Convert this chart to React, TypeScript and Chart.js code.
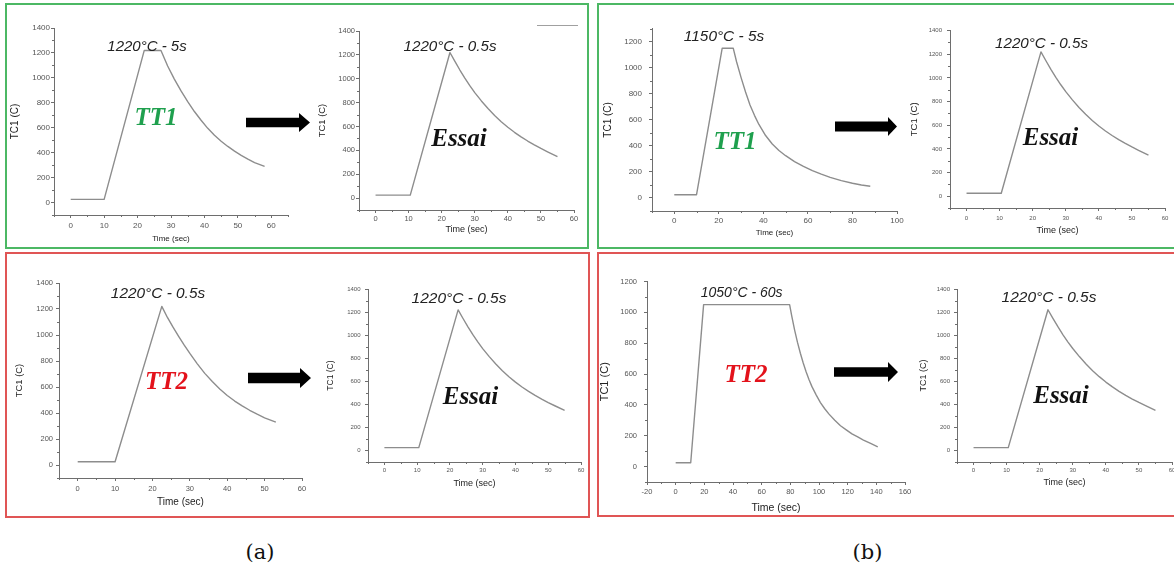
import React, { useEffect, useRef } from "react";
import { Chart, registerables } from "chart.js";

Chart.register(...registerables);

// ---------------- data ----------------
// (a) top : TT1 1220°C - 5s
const TT1_A_TIME = [0, 10, 22, 27, 29, 31, 33, 35, 37, 39, 41, 43, 45, 47, 49, 51, 53, 55, 58];
const TT1_A_TEMP = [25, 25, 1220, 1220, 1095, 990, 895, 810, 730, 660, 595, 540, 492, 450, 412, 378, 348, 320, 290];
// Essai 1220°C - 0.5s (same test in the four right-hand panels)
const ESSAI_TIME = [0, 10.5, 22.5, 24, 25.5, 27, 28.5, 30, 32, 34, 36, 38, 40, 42, 44, 46, 48, 50, 52, 55];
const ESSAI_TEMP = [25, 25, 1220, 1145, 1073, 1005, 942, 884, 814, 750, 692, 640, 593, 551, 513, 478, 446, 416, 388, 348];
// (a) bottom : TT2 1220°C - 0.5s
const TT2_A_TIME = [0, 10, 22.5, 24, 25.5, 27, 28.5, 30, 32, 34, 36, 38, 40, 42, 44, 46, 48, 50, 53];
const TT2_A_TEMP = [25, 25, 1220, 1135, 1060, 990, 922, 858, 778, 705, 642, 585, 535, 492, 455, 421, 391, 363, 330];
// (b) top : TT1 1150°C - 5s
const TT1_B_TIME = [0, 10, 21.5, 26.5, 28, 30, 32, 34, 36, 38, 41, 44, 47, 50, 54, 58, 62, 66, 70, 75, 80, 84, 88];
const TT1_B_TEMP = [25, 25, 1150, 1150, 1045, 925, 815, 715, 635, 565, 480, 415, 365, 325, 280, 243, 210, 183, 158, 133, 113, 100, 90];
// (b) bottom : TT2 1050°C - 60s
const TT2_B_TIME = [0, 10.5, 19.5, 79.5, 81, 83, 85, 87, 89, 91, 93, 95, 98, 101, 104, 107, 111, 115, 119, 123, 127, 131, 136, 141];
const TT2_B_TEMP = [25, 25, 1050, 1050, 975, 885, 805, 735, 672, 615, 565, 520, 465, 415, 375, 340, 300, 265, 238, 212, 192, 172, 150, 128];

// tick labels
const X_TICKS_60 = [0, 10, 20, 30, 40, 50, 60];
const X_TICKS_100 = [0, 20, 40, 60, 80, 100];
const X_TICKS_160 = [-20, 0, 20, 40, 60, 80, 100, 120, 140, 160];
const Y_TICKS_1400 = [0, 200, 400, 600, 800, 1000, 1200, 1400];
const Y_TICKS_1200 = [0, 200, 400, 600, 800, 1000, 1200];

const X_LABEL = "Time (sec)";
const Y_LABEL = "TC1 (C)";

// texts
const PEAK_LABELS = [
  "1220°C - 5s",
  "1220°C - 0.5s",
  "1220°C - 0.5s",
  "1220°C - 0.5s",
  "1150°C - 5s",
  "1220°C - 0.5s",
  "1050°C - 60s",
  "1220°C - 0.5s",
];
const TREATMENT_LABELS = ["TT1", "Essai", "TT2", "Essai", "TT1", "Essai", "TT2", "Essai"];
const CAPTIONS = ["(a)", "(b)"];

// ---------------- styles / layout ----------------
const AXIS_COLOR = "#6e6e6e";
const LINE_COLOR = "#8d8d8d";
const TICK_COLOR = "#555";
const TITLE_COLOR = "#222";
const SANS = "'Liberation Sans', Arial, sans-serif";
const SERIF = "'Liberation Serif', 'Times New Roman', serif";
const GREEN = "#4cb864";
const RED = "#e05555";
const PT = 8;
const PR = 12;

type Spec = {
  time: number[];
  temp: number[];
  xTicks: number[];
  yTicks: number[];
  xRange: [number, number];
  yRange: [number, number];
  plot: [number, number, number, number]; // left, top, right, bottom of the axes
  xTitleY: number;
  yTitleX: number;
  tick: number;
  xt: number;
  yt: number;
  xPad: number;
  yPad: number;
};

const SPECS: Spec[] = [
  { time: TT1_A_TIME, temp: TT1_A_TEMP, xTicks: X_TICKS_60, yTicks: Y_TICKS_1400, xRange: [-5, 65], yRange: [-100, 1400], plot: [54, 28, 288, 215], xTitleY: 239, yTitleX: 15, tick: 8, xt: 8, yt: 10, xPad: 3, yPad: 1 },
  { time: ESSAI_TIME, temp: ESSAI_TEMP, xTicks: X_TICKS_60, yTicks: Y_TICKS_1400, xRange: [-5, 60], yRange: [-100, 1400], plot: [359, 31, 574, 210], xTitleY: 230, yTitleX: 323, tick: 7.5, xt: 9, yt: 9.4, xPad: 1.2, yPad: 1 },
  { time: TT2_A_TIME, temp: TT2_A_TEMP, xTicks: X_TICKS_60, yTicks: Y_TICKS_1400, xRange: [-5, 60], yRange: [-100, 1400], plot: [59, 283, 302, 478], xTitleY: 502, yTitleX: 20, tick: 7.5, xt: 10, yt: 9.4, xPad: 3.2, yPad: 3 },
  { time: ESSAI_TIME, temp: ESSAI_TEMP, xTicks: X_TICKS_60, yTicks: Y_TICKS_1400, xRange: [-5, 60], yRange: [-100, 1400], plot: [368, 289, 581, 462], xTitleY: 484, yTitleX: 331, tick: 6, xt: 9, yt: 8.5, xPad: 1.7, yPad: 4.5 },
  { time: TT1_B_TIME, temp: TT1_B_TEMP, xTicks: X_TICKS_100, yTicks: Y_TICKS_1200, xRange: [-10, 100], yRange: [-100, 1300], plot: [652, 25, 897, 211], xTitleY: 233, yTitleX: 608, tick: 8, xt: 8, yt: 10, xPad: 1.6, yPad: 7 },
  { time: ESSAI_TIME, temp: ESSAI_TEMP, xTicks: X_TICKS_60, yTicks: Y_TICKS_1400, xRange: [-5, 60], yRange: [-100, 1400], plot: [950, 30, 1165, 208], xTitleY: 231, yTitleX: 915, tick: 6, xt: 9, yt: 9.5, xPad: 4, yPad: 5 },
  { time: TT2_B_TIME, temp: TT2_B_TEMP, xTicks: X_TICKS_160, yTicks: Y_TICKS_1200, xRange: [-20, 160], yRange: [-100, 1200], plot: [647, 278, 905, 482], xTitleY: 508, yTitleX: 605, tick: 7.5, xt: 10.5, yt: 11, xPad: 2.6, yPad: 7 },
  { time: ESSAI_TIME, temp: ESSAI_TEMP, xTicks: X_TICKS_60, yTicks: Y_TICKS_1400, xRange: [-5, 60], yRange: [-100, 1400], plot: [957, 289, 1172, 462], xTitleY: 483, yTitleX: 923, tick: 6, xt: 9, yt: 9, xPad: 1.7, yPad: 4 },
];

// overlay positions (centre x, centre y, font size) for the texts
const PEAK_POS: [number, number, number][] = [
  [147, 45, 15], [450, 46, 15.2], [158, 293, 15.4], [459, 297.5, 15.5],
  [724, 35.5, 15.4], [1041.5, 43.3, 15.2], [741.7, 292, 14], [1049, 297, 15.5],
];
const TREAT_POS: [number, number][] = [
  [156, 116], [459, 136.7], [166.5, 380], [470.5, 395],
  [735, 140], [1050.5, 136], [746, 372.5], [1061, 393.5],
];
// arrows: x0, x1, centreY, shaft thickness, head start, head half height
const ARROWS: [number, number, number, number, number, number][] = [
  [246, 310, 122, 9.5, 299, 9.5],
  [248, 311, 377.5, 10.5, 300, 10],
  [835, 897, 126.5, 10, 888, 9.5],
  [834, 898, 371.5, 9.5, 888, 10],
];

const minorTicks = {
  id: "minorTicks",
  afterDraw(chart: any) {
    const ctx = chart.ctx;
    ctx.save();
    ctx.strokeStyle = AXIS_COLOR;
    ctx.lineWidth = 1;
    for (const id of ["x", "y"]) {
      const s = chart.scales[id];
      const vals = s.ticks.map((t: any) => t.value);
      if (vals.length < 2) continue;
      const step = vals[1] - vals[0];
      const minors: number[] = [];
      for (let i = 0; i < vals.length - 1; i++) minors.push((vals[i] + vals[i + 1]) / 2);
      if (vals[0] - step / 2 >= s.min) minors.push(vals[0] - step / 2);
      if (vals[vals.length - 1] + step / 2 <= s.max) minors.push(vals[vals.length - 1] + step / 2);
      for (const v of minors) {
        const p = Math.round(s.getPixelForValue(v)) + 0.5;
        ctx.beginPath();
        if (id === "x") {
          const y = chart.chartArea.bottom;
          ctx.moveTo(p, y);
          ctx.lineTo(p, y + 2);
        } else {
          const x = chart.chartArea.left;
          ctx.moveTo(x, p);
          ctx.lineTo(x - 2, p);
        }
        ctx.stroke();
      }
    }
    ctx.restore();
  },
};

function MiniChart({ spec }: { spec: Spec }) {
  const ref = useRef<HTMLCanvasElement | null>(null);
  const [L, T, R, B] = spec.plot;
  const XH = Math.round(spec.xTitleY - B + (1.2 * spec.xt) / 2);
  const YW = Math.round(L - spec.yTitleX + (1.2 * spec.yt) / 2);
  const left = L - YW;
  const top = T - PT;
  const width = R - L + YW + PR;
  const height = B - T + PT + XH;

  useEffect(() => {
    if (!ref.current) return;
    const data = spec.time.map((t, i) => ({ x: t, y: spec.temp[i] }));
    const chart = new Chart(ref.current, {
      type: "line",
      data: {
        datasets: [
          {
            data,
            borderColor: LINE_COLOR,
            borderWidth: 1.4,
            pointRadius: 0,
            fill: false,
            tension: 0,
            borderJoinStyle: "round",
          },
        ],
      },
      options: {
        animation: false,
        responsive: true,
        maintainAspectRatio: false,
        layout: { padding: { top: PT, right: PR, left: 0, bottom: 0 } },
        plugins: { legend: { display: false }, tooltip: { enabled: false } },
        scales: {
          x: {
            type: "linear",
            min: spec.xRange[0],
            max: spec.xRange[1],
            afterBuildTicks: (s: any) => {
              s.ticks = spec.xTicks.map((v) => ({ value: v }));
            },
            afterFit: (s: any) => {
              s.height = XH;
            },
            grid: { drawOnChartArea: false, drawTicks: true, tickLength: 3, color: AXIS_COLOR },
            border: { color: AXIS_COLOR, width: 1 },
            ticks: {
              font: { family: SANS, size: spec.tick },
              color: TICK_COLOR,
              padding: spec.xPad,
              maxRotation: 0,
              autoSkip: false,
              callback: (v: any) => String(v),
            },
            title: {
              display: true,
              text: X_LABEL,
              font: { family: SANS, size: spec.xt },
              color: TITLE_COLOR,
              padding: 0,
            },
          },
          y: {
            type: "linear",
            min: spec.yRange[0],
            max: spec.yRange[1],
            afterBuildTicks: (s: any) => {
              s.ticks = spec.yTicks.map((v) => ({ value: v }));
            },
            afterFit: (s: any) => {
              s.width = YW;
            },
            grid: { drawOnChartArea: false, drawTicks: true, tickLength: 3, color: AXIS_COLOR },
            border: { color: AXIS_COLOR, width: 1 },
            ticks: {
              font: { family: SANS, size: spec.tick },
              color: TICK_COLOR,
              padding: spec.yPad,
              autoSkip: false,
              callback: (v: any) => String(v),
            },
            title: {
              display: true,
              text: Y_LABEL,
              font: { family: SANS, size: spec.yt },
              color: TITLE_COLOR,
              padding: 0,
            },
          },
        },
      },
      plugins: [minorTicks],
    } as any);
    return () => chart.destroy();
  }, [spec]);

  return (
    <div style={{ position: "absolute", left, top, width, height }}>
      <canvas ref={ref} />
    </div>
  );
}

function Box({ l, t, w, h, c }: { l: number; t: number; w: number; h: number; c: string }) {
  return (
    <div
      style={{
        position: "absolute",
        left: l,
        top: t,
        width: w,
        height: h,
        border: `2px solid ${c}`,
        boxSizing: "border-box",
      }}
    />
  );
}

function Arrow({ a }: { a: [number, number, number, number, number, number] }) {
  const [x0, x1, cy, th, hx, hh] = a;
  const w = x1 - x0;
  const H = 2 * hh + 2;
  const c = H / 2;
  const hxl = hx - x0;
  const pts = [
    [0, c - th / 2],
    [hxl, c - th / 2],
    [hxl, c - hh],
    [w, c],
    [hxl, c + hh],
    [hxl, c + th / 2],
    [0, c + th / 2],
  ]
    .map((p) => p.join(","))
    .join(" ");
  return (
    <svg style={{ position: "absolute", left: x0, top: cy - c }} width={w} height={H}>
      <polygon points={pts} fill="#000" />
    </svg>
  );
}

function Txt({ x, y, children, style }: { x: number; y: number; children: any; style: any }) {
  return (
    <div
      style={{
        position: "absolute",
        left: x,
        top: y,
        transform: "translate(-50%, -50%)",
        whiteSpace: "nowrap",
        lineHeight: 1,
        ...style,
      }}
    >
      {children}
    </div>
  );
}

export default function App() {
  return (
    <div
      style={{
        position: "absolute",
        left: 0,
        top: 0,
        width: 1174,
        height: 569,
        overflow: "hidden",
        background: "#fff",
      }}
    >
      <Box l={5} t={3} w={584} h={246} c={GREEN} />
      <Box l={5} t={252} w={585} h={266} c={RED} />
      <Box l={597} t={3} w={600} h={246} c={GREEN} />
      <Box l={597} t={252} w={600} h={265} c={RED} />

      {SPECS.map((s, i) => (
        <MiniChart key={i} spec={s} />
      ))}

      {/* legend sample line of the second panel */}
      <div style={{ position: "absolute", left: 537, top: 24.5, width: 41, height: 1.5, background: "#a0a0a0" }} />

      {PEAK_LABELS.map((t, i) => (
        <Txt
          key={"p" + i}
          x={PEAK_POS[i][0]}
          y={PEAK_POS[i][1]}
          style={{ fontFamily: SANS, fontStyle: "italic", fontSize: PEAK_POS[i][2], color: "#222" }}
        >
          {t}
        </Txt>
      ))}

      {TREATMENT_LABELS.map((t, i) => (
        <Txt
          key={"t" + i}
          x={TREAT_POS[i][0]}
          y={TREAT_POS[i][1]}
          style={{
            fontFamily: SERIF,
            fontStyle: "italic",
            fontWeight: "bold",
            fontSize: 25,
            color: t === "TT1" ? "#1fa04e" : t === "TT2" ? "#e3121b" : "#111",
          }}
        >
          {t}
        </Txt>
      ))}

      {ARROWS.map((a, i) => (
        <Arrow key={"a" + i} a={a} />
      ))}

      <Txt x={260} y={552} style={{ fontFamily: "'DejaVu Serif', serif", fontSize: 21, color: "#111" }}>
        {CAPTIONS[0]}
      </Txt>
      <Txt x={867.5} y={552} style={{ fontFamily: "'DejaVu Serif', serif", fontSize: 21, color: "#111" }}>
        {CAPTIONS[1]}
      </Txt>
    </div>
  );
}
